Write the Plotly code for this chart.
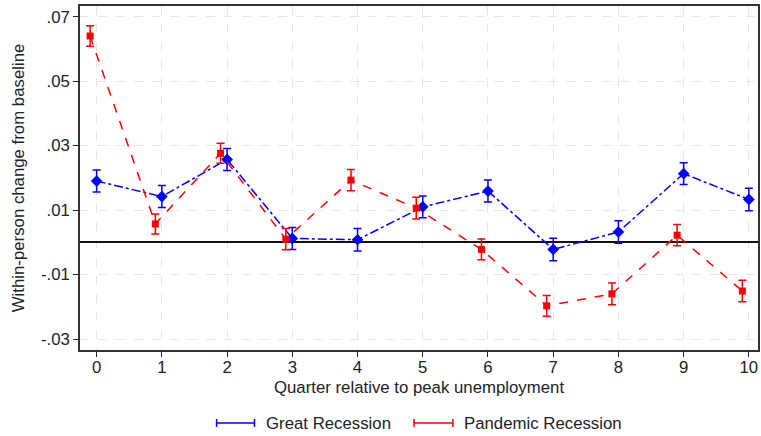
import plotly.graph_objects as go

# Quarters relative to peak unemployment
quarters = [0, 1, 2, 3, 4, 5, 6, 7, 8, 9, 10]

# Great Recession: point estimates and 95% CI half-widths
great_est = [0.0190, 0.0142, 0.0257, 0.0012, 0.0008, 0.0110, 0.0159, -0.0022, 0.0032, 0.0213, 0.0133]
great_err = [0.0034, 0.0034, 0.0034, 0.0034, 0.0035, 0.0034, 0.0034, 0.0035, 0.0035, 0.0034, 0.0035]

# Pandemic Recession: point estimates and 95% CI half-widths
pandemic_est = [0.0640, 0.0057, 0.0276, 0.0010, 0.0193, 0.0106, -0.0022, -0.0197, -0.0160, 0.0022, -0.0151]
pandemic_err = [0.0032, 0.0031, 0.0031, 0.0033, 0.0033, 0.0034, 0.0032, 0.0032, 0.0034, 0.0033, 0.0033]

# Pandemic series is nudged left so the bars do not overlap
pandemic_shift = -0.1

ytick_vals = [0.07, 0.05, 0.03, 0.01, -0.01, -0.03]
ytick_text = [".07", ".05", ".03", ".01", "-.01", "-.03"]

series_names = ["Great Recession", "Pandemic Recession"]

BLUE = "#0000ff"
RED = "#ff0000"
FONT = "Liberation Sans, Arial, sans-serif"
FS = 16.8

W, H = 761, 436
ML, MR, MT, MB = 80, 1, 6, 86

fig = go.Figure()

fig.add_trace(go.Scatter(
    x=quarters, y=great_est, name=series_names[0],
    mode="lines+markers",
    line=dict(color=BLUE, width=1.5, dash="dashdot"),
    marker=dict(symbol="diamond", size=9, color=BLUE),
    error_y=dict(type="data", array=great_err, visible=True,
                 color=BLUE, thickness=1.5, width=4),
    showlegend=False,
))

fig.add_trace(go.Scatter(
    x=[q + pandemic_shift for q in quarters], y=pandemic_est, name=series_names[1],
    mode="lines+markers",
    line=dict(color=RED, width=1.5, dash="dash"),
    marker=dict(symbol="square", size=7, color=RED),
    error_y=dict(type="data", array=pandemic_err, visible=True,
                 color=RED, thickness=1.5, width=4),
    showlegend=False,
))

# Manual legend: capped segments with labels below the x-axis title
def px_to_paper(px, py):
    return (px - ML) / (W - ML - MR), (H - MB - py) / (H - MT - MB)

legend_items = [
    (series_names[0], BLUE, 217, 255, 265),
    (series_names[1], RED, 415, 454, 463),
]
shapes = []
annotations = []
ly = 423
for label, color, x0, x1, tx in legend_items:
    a0, b0 = px_to_paper(x0, ly)
    a1, _ = px_to_paper(x1, ly)
    shapes.append(dict(type="line", xref="paper", yref="paper",
                       x0=a0, x1=a1, y0=b0, y1=b0,
                       line=dict(color=color, width=1.5)))
    for xe in (x0, x1):
        ae, bt = px_to_paper(xe, ly - 4)
        _, bb = px_to_paper(xe, ly + 4)
        shapes.append(dict(type="line", xref="paper", yref="paper",
                           x0=ae, x1=ae, y0=bb, y1=bt,
                           line=dict(color=color, width=1.5)))
    ta, tb = px_to_paper(tx, ly)
    annotations.append(dict(text=label, xref="paper", yref="paper",
                            x=ta, y=tb, xanchor="left", yanchor="middle",
                            showarrow=False,
                            font=dict(family=FONT, size=FS, color="#222222")))

fig.update_layout(
    width=W, height=H,
    margin=dict(l=ML, r=MR, t=MT, b=MB),
    paper_bgcolor="white", plot_bgcolor="white",
    font=dict(family=FONT, size=FS, color="#222222"),
    shapes=shapes, annotations=annotations,
    showlegend=False,
)

fig.update_xaxes(
    range=[-0.255, 10.14],
    tickvals=quarters, ticktext=[str(q) for q in quarters],
    ticks="outside", ticklen=5, tickcolor="#222222", tickwidth=1,
    ticklabelstandoff=-4,
    showline=True, linecolor="#333333", linewidth=1.5, mirror=True,
    showgrid=True, gridcolor="#e6e6e6", griddash="dash", gridwidth=1,
    zeroline=False,
    title=dict(text="Quarter relative to peak unemployment",
               font=dict(size=FS), standoff=5),
    tickfont=dict(size=FS),
)

fig.update_yaxes(
    range=[-0.0334, 0.0733],
    tickvals=ytick_vals, ticktext=ytick_text,
    ticks="outside", ticklen=5, tickcolor="#222222", tickwidth=1,
    showline=True, linecolor="#333333", linewidth=1.5, mirror=True,
    showgrid=True, gridcolor="#e6e6e6", griddash="dash", gridwidth=1,
    zeroline=True, zerolinecolor="#111111", zerolinewidth=1.5,
    title=dict(text="Within-person change from baseline",
               font=dict(size=FS), standoff=12),
    tickfont=dict(size=FS),
)

fig.write_html("out.html")
